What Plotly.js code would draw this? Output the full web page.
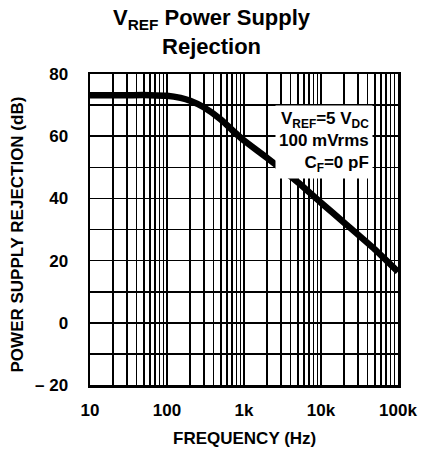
<!DOCTYPE html>
<html>
<head>
<meta charset="utf-8">
<script src="https://cdn.plot.ly/plotly-3.0.1.min.js"></script>
<style>html,body{margin:0;padding:0;background:#fff;}#chart{width:422px;height:461px;}</style>
</head>
<body>
<div id="chart"></div>
<script>
// Data
const freqHz = [10, 30, 60, 100, 150, 200, 300, 500, 700, 1000, 2000, 5000, 10000, 20000, 50000, 100000];
const psrrDb = [73.2, 73.2, 73.2, 73.0, 72.3, 71.4, 69.3, 65.4, 62.0, 58.6, 53.0, 45.2, 38.6, 32.2, 23.6, 16.4];

const xTickVals = [10, 100, 1000, 10000, 100000];
const xTickText = ['10', '100', '1k', '10k', '100k'];
const xMinorVals = [];
[10, 100, 1000, 10000].forEach(d => { for (let m = 2; m <= 9; m++) xMinorVals.push(m * d); });

const yTickVals = [-20, 0, 20, 40, 60, 80];
const yTickText = ['\u2013 20', '0', '20', '40', '60', '80'];
const yMinorVals = [-10, 10, 30, 50, 70];

const noteLines = ['V<sub>REF</sub>=5 V<sub>DC</sub>', '100 mVrms', 'C<sub>F</sub>=0 pF'];
const titleText = 'V<sub>REF</sub> Power Supply<br>Rejection';

const narrow = '"Liberation Sans Narrow", "Liberation Sans", Arial, sans-serif';
const sans = '"Liberation Sans", Arial, sans-serif';

const trace = {
  x: freqHz, y: psrrDb, type: 'scatter', mode: 'lines',
  line: {color: '#000', width: 6.5, shape: 'spline', smoothing: 0.6},
  hoverinfo: 'skip'
};

const gridStyle = {showgrid: true, gridcolor: '#000', gridwidth: 1.6, ticks: ''};

const layout = {
  width: 422, height: 461,
  margin: {l: 90, r: 24, t: 74, b: 76},
  paper_bgcolor: '#fff', plot_bgcolor: '#fff',
  showlegend: false,
  xaxis: Object.assign({
    type: 'log', range: [1, 5],
    tickvals: xTickVals, ticktext: xTickText,
    minor: Object.assign({tickvals: xMinorVals}, gridStyle),
    showline: true, linecolor: '#000', linewidth: 2.5, mirror: true,
    zeroline: false, ticklabelstandoff: 8,
    tickfont: {family: narrow, size: 17, color: '#000', weight: 'bold'}
  }, gridStyle),
  yaxis: Object.assign({
    range: [-20, 80],
    tickvals: yTickVals, ticktext: yTickText,
    minor: Object.assign({tickvals: yMinorVals}, gridStyle),
    showline: true, linecolor: '#000', linewidth: 2.5, mirror: true,
    zeroline: false, ticklabelstandoff: 16,
    tickfont: {family: narrow, size: 17, color: '#000', weight: 'bold'}
  }, gridStyle),
  annotations: [
    {
      text: '<b>' + titleText + '</b>',
      xref: 'paper', yref: 'paper', x: 0.396, y: 1.135,
      xanchor: 'center', yanchor: 'middle', align: 'center', showarrow: false,
      font: {family: sans, size: 22, color: '#000'}
    },
    {
      text: '<b>' + noteLines.join('<br>') + '</b>',
      xref: 'paper', yref: 'paper', x: 0.918, y: 0.78,
      xanchor: 'right', yanchor: 'middle', align: 'right',
      showarrow: false, bgcolor: '#fff', borderpad: 3,
      font: {family: narrow, size: 17, color: '#000'}
    },
    {
      text: '<b>FREQUENCY (Hz)</b>',
      xref: 'paper', yref: 'paper', x: 0.5, y: -0.172,
      xanchor: 'center', yanchor: 'middle', showarrow: false,
      font: {family: narrow, size: 17, color: '#000'}
    },
    {
      text: '<b>POWER SUPPLY REJECTION (dB)</b>',
      xref: 'paper', yref: 'paper', x: -0.236, y: 0.485,
      xanchor: 'center', yanchor: 'middle', textangle: -90, showarrow: false,
      font: {family: narrow, size: 17, color: '#000'}
    }
  ]
};

Plotly.newPlot('chart', [trace], layout, {displayModeBar: false, staticPlot: true});
</script>
</body>
</html>
